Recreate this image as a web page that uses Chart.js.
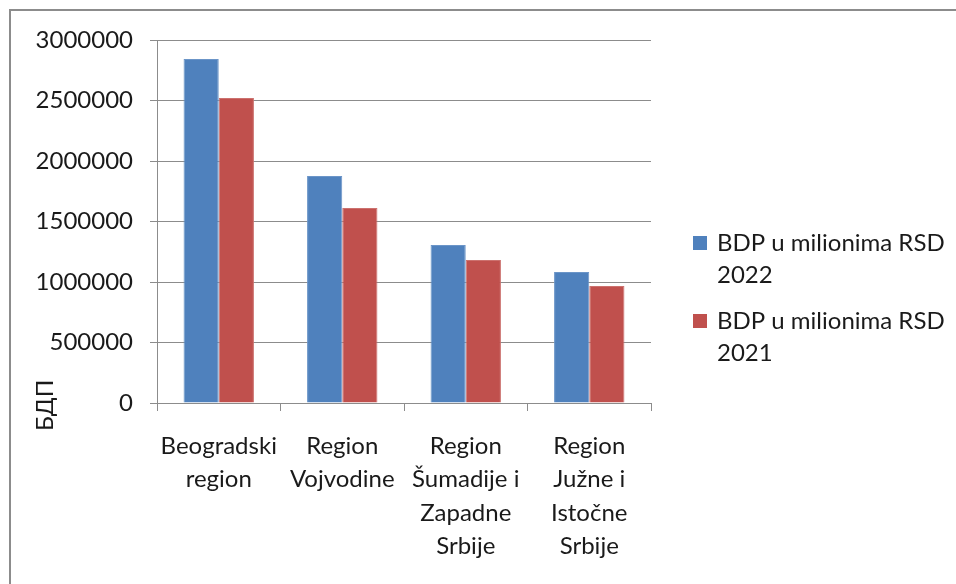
<!DOCTYPE html>
<html>
<head>
<meta charset="utf-8">
<script src="https://cdn.jsdelivr.net/npm/chart.js@4/dist/chart.umd.min.js"></script>
<style>
  html, body { margin: 0; padding: 0; background: #ffffff; }
  #wrap { position: relative; width: 956px; height: 584px; overflow: hidden; }
  #frame { position: absolute; left: 9px; top: 9px; width: 1200px; height: 900px;
           border-top: 2px solid #8c8c8c; border-left: 2px solid #8c8c8c; box-sizing: border-box; }
  #c { position: absolute; left: 0; top: 0; }
</style>
</head>
<body>
<div id="wrap">
  <div id="frame"></div>
  <canvas id="c" width="956" height="584"></canvas>
</div>
<script>
const categories = [
  ["Beogradski", "region"],
  ["Region", "Vojvodine"],
  ["Region", "Šumadije i", "Zapadne", "Srbije"],
  ["Region", "Južne i", "Istočne", "Srbije"]
];
const seriesNames = [
  ["BDP u milionima RSD", "2022"],
  ["BDP u milionima RSD", "2021"]
];
const gdp2022 = [2843000, 1876000, 1306000, 1083000];
const gdp2021 = [2521000, 1612000, 1182000, 967000];
const yTicks = [0, 500000, 1000000, 1500000, 2000000, 2500000, 3000000];
const yTitle = "БДП";

const FONT = "Lato, 'Open Sans', sans-serif";
const FSIZE = 24;
const TEXT = "#1a1a1a";
const GRID = "#8c8c8c";

const yTitlePlugin = {
  id: 'yTitlePlugin',
  afterDraw(chart) {
    const ctx = chart.ctx;
    const area = chart.chartArea;
    ctx.save();
    ctx.font = FSIZE + "px " + FONT;
    ctx.fillStyle = TEXT;
    ctx.translate(area.left - 112, area.bottom + 28);
    ctx.rotate(-Math.PI / 2);
    ctx.textAlign = 'left';
    ctx.textBaseline = 'middle';
    ctx.fillText(yTitle, 0, 0);
    ctx.restore();
  }
};

// Legend drawn on the canvas from the chart's own datasets
const sideLegendPlugin = {
  id: 'sideLegend',
  afterDraw(chart) {
    const ctx = chart.ctx;
    const area = chart.chartArea;
    const lineH = 32;
    const itemGap = 14;
    const box = 14;
    const ds = chart.data.datasets;
    const items = ds.map(d => Array.isArray(d.label) ? d.label : [d.label]);
    const totalH = items.reduce((s, l) => s + l.length * lineH, 0) + itemGap * (items.length - 1);
    let y = chart.height / 2 - totalH / 2 + lineH / 2 + 6;
    const x = area.right + 42;
    ctx.save();
    ctx.font = FSIZE + "px " + FONT;
    ctx.textBaseline = 'middle';
    ctx.textAlign = 'left';
    items.forEach((lines, i) => {
      ctx.fillStyle = ds[i].backgroundColor;
      ctx.fillRect(x, Math.round(y - box / 2), box, box);
      ctx.fillStyle = TEXT;
      lines.forEach((t, j) => ctx.fillText(t, x + box + 10, y + j * lineH));
      y += lines.length * lineH + itemGap;
    });
    ctx.restore();
  }
};

new Chart(document.getElementById('c'), {
  type: 'bar',
  data: {
    labels: categories,
    datasets: [
      { label: seriesNames[0], data: gdp2022, backgroundColor: '#4f81bd', borderColor: '#6b95c8', borderWidth: 1 },
      { label: seriesNames[1], data: gdp2021, backgroundColor: '#c0504d', borderColor: '#cc716e', borderWidth: 1 }
    ]
  },
  options: {
    responsive: false,
    animation: false,
    devicePixelRatio: 1,
    layout: { padding: { top: 40, left: 0, right: 305, bottom: 0 } },
    datasets: { bar: { categoryPercentage: 0.57, barPercentage: 1.0 } },
    plugins: {
      legend: { display: false },
      tooltip: { enabled: false },
      title: { display: false }
    },
    scales: {
      x: {
        grid: { display: true, offset: true, drawOnChartArea: false, drawTicks: true, tickLength: 8, color: GRID, lineWidth: 1 },
        border: { display: true, color: GRID, width: 1 },
        ticks: { font: { family: FONT, size: FSIZE, lineHeight: 1.38 }, color: TEXT, padding: 19, maxRotation: 0, autoSkip: false },
        afterFit: s => { s.height = 181; }
      },
      y: {
        min: 0, max: 3000000,
        afterBuildTicks: s => { s.ticks = yTicks.map(v => ({ value: v })); },
        grid: { display: true, color: GRID, lineWidth: 1, drawTicks: true, tickLength: 7 },
        border: { display: true, color: GRID, width: 1 },
        ticks: { font: { family: FONT, size: FSIZE }, color: TEXT, padding: 17, callback: v => String(v) },
        afterFit: s => { s.width = 157; }
      }
    }
  },
  plugins: [yTitlePlugin, sideLegendPlugin]
});
</script>
</body>
</html>
